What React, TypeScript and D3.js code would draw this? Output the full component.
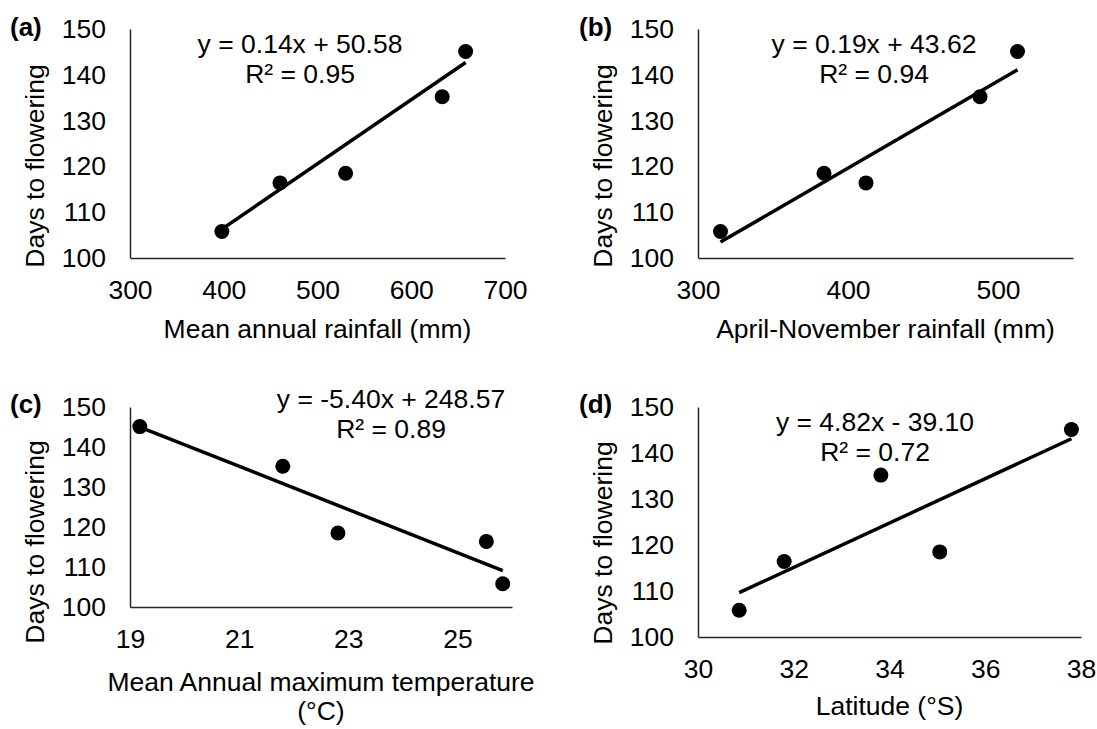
import React, { useEffect, useRef } from 'react';
import * as d3 from 'd3';

// five sites, same order in every array
const daysToFlowering = [105.8, 116.4, 118.5, 135.2, 145.1];
const annualRainfall = [398, 460, 530, 633, 658];
const aprNovRainfall = [315, 412, 384, 488, 513];
const maxTemperature = [25.83, 25.53, 22.81, 21.8, 19.18];
const latitude = [30.86, 31.8, 35.05, 33.82, 37.8];

const panelLetters = ['(a)', '(b)', '(c)', '(d)'];
const xTitles = [
  ['Mean annual rainfall (mm)'],
  ['April-November rainfall (mm)'],
  ['Mean Annual maximum temperature', '(°C)'],
  ['Latitude (°S)'],
];
const equations = ['y = 0.14x + 50.58', 'y = 0.19x + 43.62', 'y = -5.40x + 248.57', 'y = 4.82x - 39.10'];
const rSquared = ['R² = 0.95', 'R² = 0.94', 'R² = 0.89', 'R² = 0.72'];
const slopes = [0.14, 0.19, -5.4, 4.82];
const intercepts = [50.58, 43.62, 248.57, -39.1];
const xDomains = [[300, 700], [300, 550], [19, 26], [30, 38]];
const xTicks = [[300, 400, 500, 600, 700], [300, 400, 500], [19, 21, 23, 25], [30, 32, 34, 36, 38]];
const yTicks = [100, 110, 120, 130, 140, 150];
const xValues = [annualRainfall, aprNovRainfall, maxTemperature, latitude];

const W = 1097;
const H = 729;
const FONT = '"Liberation Sans", Arial, sans-serif';
const FS = 26.5;

// plot boxes + text anchors per panel
const layout = [
  { l: 130, r: 505, t: 29, b: 258, eqX: 300, eqY: 53, lblX: 10, lblY: 36, yTitleY: 166, xTitleY: 338 },
  { l: 698, r: 1073, t: 29, b: 258, eqX: 874, eqY: 53, lblX: 579, lblY: 36, yTitleY: 166, xTitleY: 338 },
  { l: 130, r: 512, t: 407, b: 607, eqX: 391, eqY: 408, lblX: 10, lblY: 413, yTitleY: 542, xTitleY: 691 },
  { l: 698, r: 1081, t: 407, b: 637, eqX: 875, eqY: 431, lblX: 579, lblY: 413, yTitleY: 543, xTitleY: 715 },
];

const App = () => {
  const svgRef = useRef(null);

  useEffect(() => {
    const svg = d3.select(svgRef.current);
    svg.selectAll('*').remove();

    layout.forEach((p, i) => {
      const x = d3.scaleLinear().domain(xDomains[i]).range([p.l, p.r]);
      const y = d3.scaleLinear().domain([100, 150]).range([p.b, p.t]);
      const g = svg.append('g');

      // axes, no tick marks
      const xAxis = g.append('g')
        .attr('transform', `translate(0,${p.b})`)
        .call(d3.axisBottom(x).tickValues(xTicks[i]).tickFormat(d3.format('d'))
          .tickSize(0).tickSizeOuter(0).tickPadding(22));
      const yAxis = g.append('g')
        .attr('transform', `translate(${p.l},0)`)
        .call(d3.axisLeft(y).tickValues(yTicks).tickFormat(d3.format('d'))
          .tickSize(0).tickSizeOuter(0).tickPadding(24));
      [xAxis, yAxis].forEach(ax => {
        ax.select('.domain').attr('stroke', '#262626').attr('stroke-width', 1.5);
        ax.selectAll('text').attr('font-family', FONT).attr('font-size', FS).attr('fill', '#000');
      });

      // trendline over the data range
      const ext = d3.extent(xValues[i]);
      const line = d3.line().x(d => x(d)).y(d => y(slopes[i] * d + intercepts[i]));
      g.append('path')
        .attr('d', line(ext))
        .attr('fill', 'none')
        .attr('stroke', '#000')
        .attr('stroke-width', 3.5);

      g.selectAll('circle')
        .data(xValues[i].map((v, k) => [v, daysToFlowering[k]]))
        .enter().append('circle')
        .attr('cx', d => x(d[0]))
        .attr('cy', d => y(d[1]))
        .attr('r', 7.5)
        .attr('fill', '#000');

      // equation
      const eq = g.append('text')
        .attr('font-family', FONT).attr('font-size', FS).attr('text-anchor', 'middle');
      eq.append('tspan').attr('x', p.eqX).attr('y', p.eqY).text(equations[i]);
      eq.append('tspan').attr('x', p.eqX).attr('y', p.eqY + 30).text(rSquared[i]);

      // panel letter
      g.append('text')
        .attr('x', p.lblX).attr('y', p.lblY)
        .attr('font-family', FONT).attr('font-size', 26).attr('font-weight', 'bold')
        .text(panelLetters[i]);

      // y title
      g.append('text')
        .attr('transform', `translate(${p.l - 86},${p.yTitleY}) rotate(-90)`)
        .attr('text-anchor', 'middle')
        .attr('font-family', FONT).attr('font-size', FS)
        .text('Days to flowering');

      // x title
      const xt = g.append('text')
        .attr('font-family', FONT).attr('font-size', FS).attr('text-anchor', 'middle');
      xTitles[i].forEach((s, k) => {
        xt.append('tspan').attr('x', (p.l + p.r) / 2).attr('y', p.xTitleY + k * 29).text(s);
      });
    });
  }, []);

  return (
    <svg ref={svgRef} width={W} height={H}
      style={{ position: 'absolute', left: 0, top: 0, background: '#fff' }} />
  );
};

export default App;
